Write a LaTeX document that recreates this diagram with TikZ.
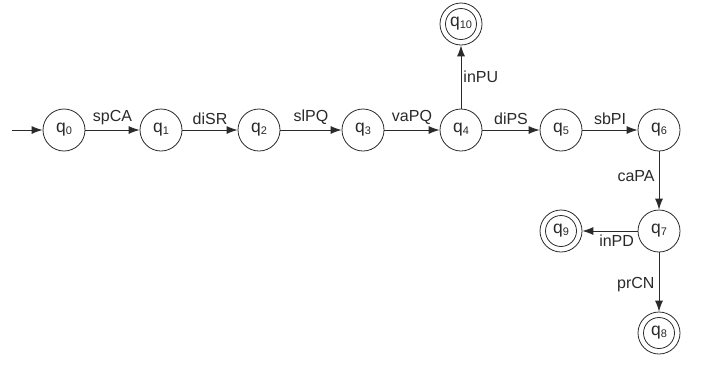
\documentclass[tikz,border=0pt]{standalone}
\usepackage{fontspec}
\setmainfont{Liberation Sans}
\usetikzlibrary{arrows.meta}
\definecolor{ink}{HTML}{2A2A2A}
% state name: letter q with a small lowered index
\newcommand{\qstate}[1]{q{\fontsize{11}{11}\selectfont\raisebox{-2pt}{#1}}}
\begin{document}
\begin{tikzpicture}[x=1pt,y=-1pt,
  statebox/.style={circle,draw=ink,line width=0.8pt,minimum size=42pt,inner sep=0pt,text=ink,
    font=\fontsize{17.5}{19}\selectfont},
  acceptbox/.style={statebox,path picture={\draw[ink,line width=0.8pt] (path picture bounding box.center) circle (15.5);}},
  trans/.style={draw=ink,line width=0.9pt,-{Latex[length=11pt,width=8pt]}},
  lab/.style={text=ink,inner sep=2pt,font=\fontsize{16}{19}\selectfont}]
\useasboundingbox (0,0) rectangle (701,365);
\fill[white] (0,0) rectangle (701,365);

% states of the main chain
\node[statebox] (q0) at (64,130) {\qstate{0}};
\node[statebox] (q1) at (161,130) {\qstate{1}};
\node[statebox] (q2) at (259,130) {\qstate{2}};
\node[statebox] (q3) at (363,130) {\qstate{3}};
\node[statebox] (q4) at (461,130) {\qstate{4}};
\node[statebox] (q5) at (561,130) {\qstate{5}};
\node[statebox] (q6) at (659,130) {\qstate{6}};
\node[statebox] (q7) at (659,231) {\qstate{7}};
% final states
\node[acceptbox] (q10) at (461,24) {\qstate{10}};
\node[acceptbox] (q9) at (561,231) {\qstate{9}};
\node[acceptbox] (q8) at (659,333) {\qstate{8}};

% start arrow
\coordinate (start) at (12,130);
\draw[trans] (start) -- (q0);

% transitions
\draw[trans] (q0) -- node[lab,above=3pt] {spCA} (q1);
\draw[trans] (q1) -- node[lab,above=3pt] {diSR} (q2);
\draw[trans] (q2) -- node[lab,above=3pt] {slPQ} (q3);
\draw[trans] (q3) -- node[lab,above=3pt] {vaPQ} (q4);
\draw[trans] (q4) -- node[lab,above=3pt] {diPS} (q5);
\draw[trans] (q5) -- node[lab,above=3pt] {sbPI} (q6);
\draw[trans] (q4) -- node[lab,right=0pt] {inPU} (q10);
\draw[trans] (q6) -- node[lab,left=2pt,pos=0.42] {caPA} (q7);
\draw[trans] (q7) -- node[lab,below=1pt,pos=0.38] {inPD} (q9);
\draw[trans] (q7) -- node[lab,left=2pt,pos=0.55] {prCN} (q8);
\end{tikzpicture}
\end{document}
